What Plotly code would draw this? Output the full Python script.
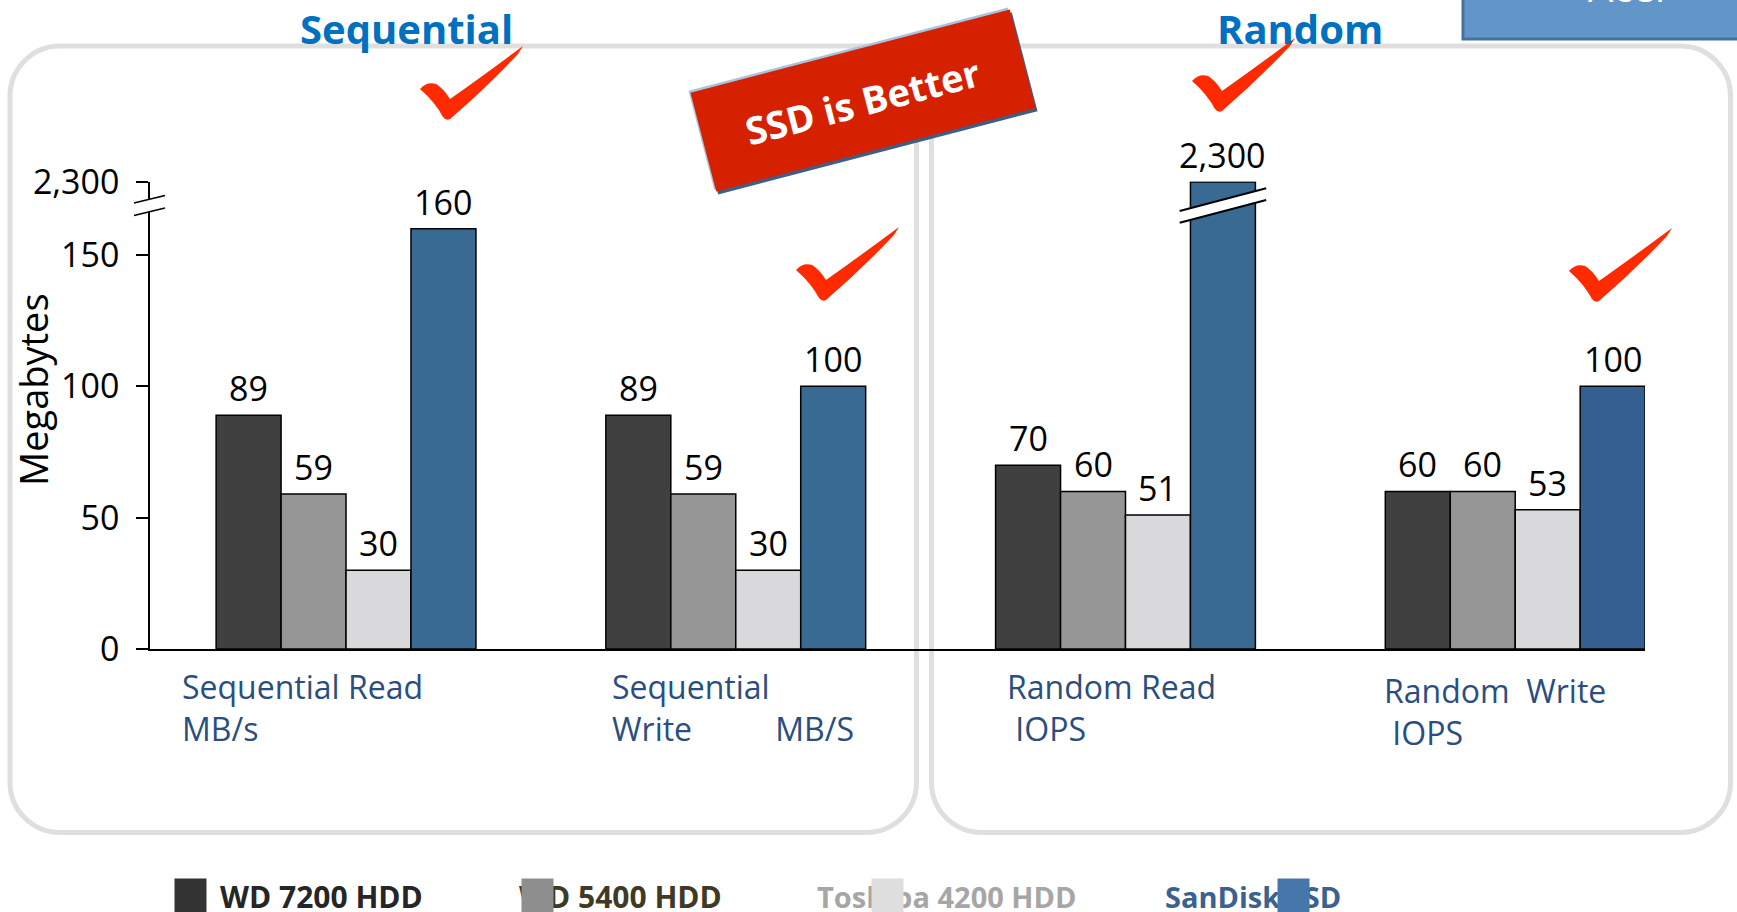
import math
import plotly.graph_objects as go

# ---------------- data ----------------
categories = ["Sequential Read MB/s", "Sequential Write MB/S", "Random Read IOPS", "Random Write IOPS"]
category_labels = [
    "Sequential Read<br>MB/s",
    "Sequential<br>Write" + "\u00a0" * 10 + "MB/S",
    "Random Read<br>\u00a0IOPS",
    "Random\u00a0\u00a0Write<br>\u00a0IOPS",
]
series_names = ["WD 7200 HDD", "WD 5400 HDD", "Toshiba 4200 HDD", "SanDisk SSD"]
wd7200 = [89, 89, 70, 60]
wd5400 = [59, 59, 60, 60]
toshiba4200 = [30, 30, 51, 53]
sandisk_ssd = [160, 100, 2300, 100]
lower_ticks = [0, 50, 100, 150]
upper_ticks = [2300]
panel_titles = ["Sequential", "Random"]
y_title = "Megabytes"
callout = "SSD is Better"
corner_box_text = "Acer"

series_values = [wd7200, wd5400, toshiba4200, sandisk_ssd]
bar_colors = [
    ["#404040"] * 4,
    ["#969696"] * 4,
    ["#D9D9DB"] * 4,
    ["#396A93", "#396A93", "#396A93", "#355F91"],
]
legend_text_colors = ["#262626", "#3F3A26", "#A6A6A6", "#3B6190"]
legend_box_colors = ["#333333", "#8E8E8E", "#DEDEDE", "#4677AA"]
legend_font_sizes = [30, 30, 29, 29]

BREAK = 1000  # values above this are drawn on the upper (broken) axis segment

# ---------------- geometry helpers (decoration only) ----------------
W, H = 1737, 912
ML, MR, MT, MB = 150, 92, 0, 263
PW = W - ML - MR
PH = H - MT - MB


def px(x):
    return (x - ML) / PW


def py(y):
    return (H - MB - y) / PH


def P(pt):
    return f"{px(pt[0]):.5f},{py(pt[1]):.5f}"


def rrect(x0, y0, x1, y1, r):
    k = 0.5523 * r
    return (
        f"M {P((x0 + r, y0))} L {P((x1 - r, y0))} "
        f"C {P((x1 - r + k, y0))} {P((x1, y0 + r - k))} {P((x1, y0 + r))} "
        f"L {P((x1, y1 - r))} "
        f"C {P((x1, y1 - r + k))} {P((x1 - r + k, y1))} {P((x1 - r, y1))} "
        f"L {P((x0 + r, y1))} "
        f"C {P((x0 + r - k, y1))} {P((x0, y1 - r + k))} {P((x0, y1 - r))} "
        f"L {P((x0, y0 + r))} "
        f"C {P((x0, y0 + r - k))} {P((x0 + r - k, y0))} {P((x0 + r, y0))} Z"
    )


def check_path(bx, by):
    def t(p):
        return P((bx + p[0], by + p[1]))
    return (
        f"M {t((-26, -29))} Q {t((-19, -37))} {t((-10, -34))} "
        f"Q {t((-3, -30))} {t((4, -19))} "
        f"Q {t((38, -43))} {t((77, -72))} "
        f"L {t((72, -64))} "
        f"Q {t((40, -30))} {t((4, 1))} "
        f"Q {t((0, 3))} {t((-3, -1))} "
        f"Q {t((-11, -16))} {t((-26, -29))} Z"
    )


def rot_box(cx, cy, w, h, ang_deg, dx=0, dy=0):
    a = math.radians(ang_deg)
    ux, uy = math.cos(a), -math.sin(a)
    vx, vy = math.sin(a), math.cos(a)
    pts = []
    for sw, sh in [(-1, -1), (1, -1), (1, 1), (-1, 1)]:
        pts.append((cx + dx + sw * w / 2 * ux + sh * h / 2 * vx,
                    cy + dy + sw * w / 2 * uy + sh * h / 2 * vy))
    return "M " + " L ".join(P(p) for p in pts) + " Z"


def poly(pts):
    return "M " + " L ".join(P(p) for p in pts) + " Z"


# ---------------- figure ----------------
BW = 1 / 6
fig = go.Figure()
for j, (name, vals) in enumerate(zip(series_names, series_values)):
    for yax in ["y", "y2"]:
        fig.add_trace(go.Bar(
            x=categories, y=vals, name=name, yaxis=yax, xaxis="x",
            width=BW, offset=-2 * BW + j * BW,
            marker=dict(color=bar_colors[j], line=dict(color="black", width=1.5)),
            showlegend=False, hoverinfo="x+y+name",
        ))

font_num = "Open Sans"
annotations = []
# value labels
for j, vals in enumerate(series_values):
    for i, v in enumerate(vals):
        annotations.append(dict(
            x=i + (j - 1.5) * BW, y=v, xref="x", yref="y2" if v >= BREAK else "y",
            text=f"{v:,}", showarrow=False, yanchor="bottom", xanchor="center",
            yshift=2, font=dict(family=font_num, size=34, color="black"),
        ))

# category labels
label_shift = [-166, -126, -120, -133]
label_top = [663, 663, 663, 667]
for i, lab in enumerate(category_labels):
    annotations.append(dict(
        x=i, y=py(label_top[i]), xref="x", yref="paper", text=lab,
        showarrow=False, xanchor="left", yanchor="top", xshift=label_shift[i],
        align="left", font=dict(family="Open Sans", size=32, color="#2A4E80"),
    ))

# panel titles
for t, cx in zip(panel_titles, [406, 1300]):
    annotations.append(dict(
        x=px(cx), y=py(28), xref="paper", yref="paper", text=f"<b>{t}</b>",
        showarrow=False, xanchor="center", yanchor="middle",
        font=dict(family="Open Sans", size=40, color="#0070C0"),
    ))

# y title
annotations.append(dict(
    x=px(33), y=py(389), xref="paper", yref="paper", text=y_title, textangle=-90,
    showarrow=False, xanchor="center", yanchor="middle",
    font=dict(family="Open Sans", size=38, color="black"),
))

# callout text
annotations.append(dict(
    x=px(862), y=py(101), xref="paper", yref="paper", text=f"<b>{callout}</b>",
    textangle=-14.6, showarrow=False, xanchor="center", yanchor="middle",
    font=dict(family="Open Sans", size=38, color="white"),
))

# corner box text (mostly cut off at the top)
annotations.append(dict(
    x=px(1629), y=py(-13), xref="paper", yref="paper", text=corner_box_text,
    showarrow=False, xanchor="center", yanchor="middle",
    font=dict(family="Open Sans", size=40, color="white"),
))

# legend: texts first, then boxes on top
legend_text_x = [218, 517, 815, 1163]
legend_box_x = [190, 537, 887, 1293]
for name, xl, col, fs in zip(series_names, legend_text_x, legend_text_colors, legend_font_sizes):
    annotations.append(dict(
        x=px(xl), y=py(896), xref="paper", yref="paper", text=f"<b>{name}</b>",
        showarrow=False, xanchor="left", yanchor="middle",
        font=dict(family="Open Sans", size=fs, color=col),
    ))
for xb, col in zip(legend_box_x, legend_box_colors):
    annotations.append(dict(
        x=px(xb), y=py(895), xref="paper", yref="paper", text="\u00a0",
        showarrow=False, xanchor="center", yanchor="middle",
        width=31, height=33, bgcolor=col, borderpad=0,
        font=dict(size=10),
    ))

shapes = []
# panels
for x0, x1 in [(10, 916.5), (931.5, 1730.5)]:
    shapes.append(dict(type="path", xref="paper", yref="paper", path=rrect(x0, 46, x1, 832.5, 50),
                       line=dict(color="#DFDFDF", width=5), layer="below"))
# corner blue box
shapes.append(dict(type="path", xref="paper", yref="paper",
                   path=poly([(1463, -10), (1745, -10), (1745, 39), (1463, 39)]),
                   fillcolor="#6396C8", line=dict(color="#44729F", width=3), layer="above"))
# callout box
shapes.append(dict(type="path", xref="paper", yref="paper", path=rot_box(863, 100.5, 330, 102, 14.6, -2, -2),
                   fillcolor="#A9C3DF", line=dict(width=0), layer="above"))
shapes.append(dict(type="path", xref="paper", yref="paper", path=rot_box(863, 100.5, 330, 102, 14.6, 2, 3),
                   fillcolor="#3F5E86", line=dict(width=0), layer="above"))
shapes.append(dict(type="path", xref="paper", yref="paper", path=rot_box(863, 100.5, 330, 102, 14.6),
                   fillcolor="#D62100", line=dict(width=0), layer="above"))
# check marks
for bx, by in [(446, 118), (822, 299), (1218, 110), (1595, 300)]:
    shapes.append(dict(type="path", xref="paper", yref="paper", path=check_path(bx, by),
                       fillcolor="#FF2A00", line=dict(width=0), layer="above"))

# axis break on y axis
shapes.append(dict(type="path", xref="paper", yref="paper",
                   path=poly([(134, 203), (165, 195.5), (165, 208), (134, 215.5)]),
                   fillcolor="white", line=dict(width=0), layer="above"))
for (a, b) in [((134, 203), (165, 195.5)), ((134, 215.5), (165, 208))]:
    shapes.append(dict(type="line", xref="paper", yref="paper", x0=px(a[0]), y0=py(a[1]),
                       x1=px(b[0]), y1=py(b[1]), line=dict(color="black", width=1.8), layer="above"))

# axis break on tall bars
for j, vals in enumerate(series_values):
    for i, v in enumerate(vals):
        if v >= BREAK:
            xc = i + (j - 1.5) * BW
            half = 0.111
            yl1, yr1 = 211, 188.3
            yl2, yr2 = 222.7, 200
            shapes.append(dict(type="path", xref="x", yref="paper",
                               path=f"M {xc - half},{py(yl1)} L {xc + half},{py(yr1)} L {xc + half},{py(yr2)} L {xc - half},{py(yl2)} Z",
                               fillcolor="white", line=dict(width=0), layer="above"))
            for yl, yr in [(yl1, yr1), (yl2, yr2)]:
                shapes.append(dict(type="line", xref="x", yref="paper", x0=xc - half, y0=py(yl),
                                   x1=xc + half, y1=py(yr), line=dict(color="black", width=2), layer="above"))

axis_common = dict(
    showline=True, linecolor="black", linewidth=1.5, ticks="outside", ticklen=12,
    tickwidth=1.5, tickcolor="black", showgrid=False, zeroline=False,
    tickfont=dict(family=font_num, size=34, color="black"), ticklabelstandoff=10,
    automargin=False, fixedrange=True,
)

fig.update_layout(
    width=W, height=H,
    margin=dict(l=ML, r=MR, t=MT, b=MB, pad=0),
    paper_bgcolor="white", plot_bgcolor="rgba(0,0,0,0)",
    barmode="overlay", showlegend=False,
    xaxis=dict(type="category", range=[-0.503, 3.333], showline=True, linecolor="black",
               linewidth=2, showticklabels=False, ticks="", showgrid=False, zeroline=False,
               anchor="y", automargin=False, fixedrange=True),
    yaxis=dict(domain=[0, py(200)], range=[0, 170.94], tickvals=lower_ticks, anchor="x", **axis_common),
    yaxis2=dict(domain=[py(200), py(181.5)], range=[2282, 2300.5], tickvals=upper_ticks,
                tickformat=",d", anchor="x", **axis_common),
    annotations=annotations,
    shapes=shapes,
)

fig.write_html("out.html", config={"displayModeBar": False})
